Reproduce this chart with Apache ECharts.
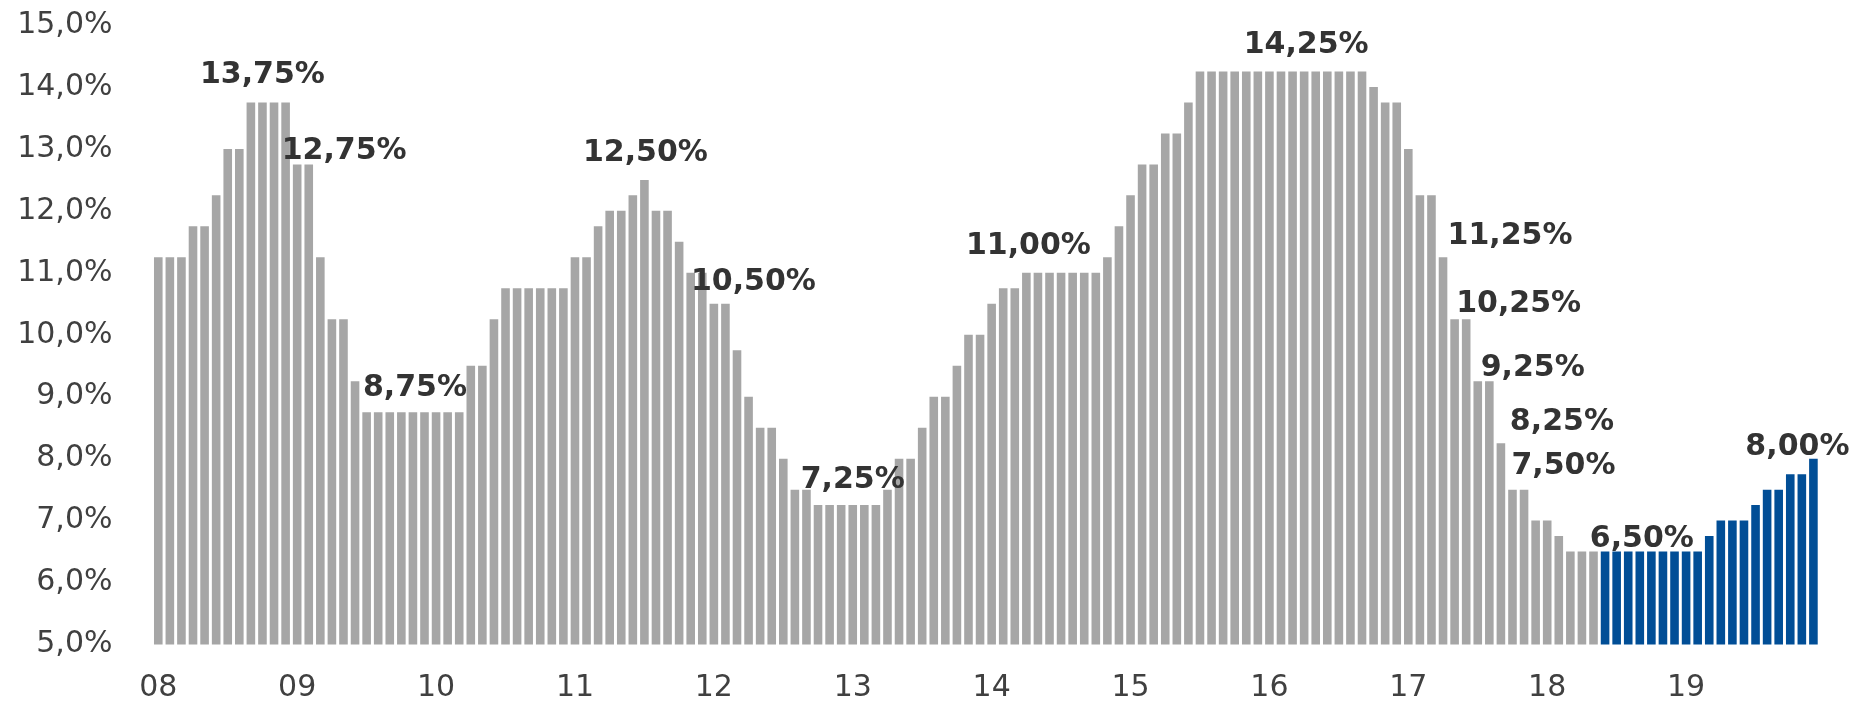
<!DOCTYPE html>
<html>
<head>
<meta charset="utf-8">
<script src="https://cdn.jsdelivr.net/npm/echarts@6/dist/echarts.min.js"></script>
<style>
  html, body { margin: 0; padding: 0; background: #ffffff; }
  #chart { width: 1853px; height: 703px; }
</style>
</head>
<body>
<div id="chart"></div>
<script>
// ---- DATA ----
const years = ['08', '09', '10', '11', '12', '13', '14', '15', '16', '17', '18', '19'];
const monthNames = ['jan', 'fev', 'mar', 'abr', 'mai', 'jun', 'jul', 'ago', 'set', 'out', 'nov', 'dez'];

const selic2008 = [11.25, 11.25, 11.25, 11.75, 11.75, 12.25, 13.00, 13.00, 13.75, 13.75, 13.75, 13.75];
const selic2009 = [12.75, 12.75, 11.25, 10.25, 10.25, 9.25, 8.75, 8.75, 8.75, 8.75, 8.75, 8.75];
const selic2010 = [8.75, 8.75, 8.75, 9.50, 9.50, 10.25, 10.75, 10.75, 10.75, 10.75, 10.75, 10.75];
const selic2011 = [11.25, 11.25, 11.75, 12.00, 12.00, 12.25, 12.50, 12.00, 12.00, 11.50, 11.00, 11.00];
const selic2012 = [10.50, 10.50, 9.75, 9.00, 8.50, 8.50, 8.00, 7.50, 7.50, 7.25, 7.25, 7.25];
const selic2013 = [7.25, 7.25, 7.25, 7.50, 8.00, 8.00, 8.50, 9.00, 9.00, 9.50, 10.00, 10.00];
const selic2014 = [10.50, 10.75, 10.75, 11.00, 11.00, 11.00, 11.00, 11.00, 11.00, 11.00, 11.25, 11.75];
const selic2015 = [12.25, 12.75, 12.75, 13.25, 13.25, 13.75, 14.25, 14.25, 14.25, 14.25, 14.25, 14.25];
const selic2016 = [14.25, 14.25, 14.25, 14.25, 14.25, 14.25, 14.25, 14.25, 14.25, 14.00, 13.75, 13.75];
const selic2017 = [13.00, 12.25, 12.25, 11.25, 10.25, 10.25, 9.25, 9.25, 8.25, 7.50, 7.50, 7.00];
const selic2018Hist = [7.00, 6.75, 6.50, 6.50, 6.50];
const selic2018Proj = [6.50, 6.50, 6.50, 6.50, 6.50, 6.50, 6.50];
const selic2019Proj = [6.50, 6.50, 6.75, 7.00, 7.00, 7.00, 7.25, 7.50, 7.50, 7.75, 7.75, 8.00];

// months whose value is written above the bar
const labelledMonths = ['out/08', 'jan/09', 'nov/09', 'jul/11', 'fev/12', 'jan/13', 'abr/14',
  'abr/16', 'abr/17', 'mai/17', 'jul/17', 'set/17', 'out/17', 'set/18', 'dez/19'];

// ---- STYLE (label placement, px) ----
const labelOffsets = {
  'out/08': [0, -12], 'jan/09': [47, 2], 'nov/09': [2, -9], 'jul/11': [1, -12],
  'fev/12': [28, -7], 'jan/13': [0, -10], 'abr/14': [2, -12], 'abr/16': [2, -11],
  'abr/17': [67, -6], 'mai/17': [64, 0], 'jul/17': [55, 2], 'set/17': [61, -6],
  'out/17': [51, -8], 'set/18': [2, 3], 'dez/19': [-16, 4]
};
const FONT = 'DejaVu Sans';
const GRAY = '#A6A6A6';
const BLUE = '#014E96';

// ---- BUILD ----
const categories = [];
years.forEach(y => monthNames.forEach(m => categories.push(m + '/' + y)));

const historical = [].concat(selic2008, selic2009, selic2010, selic2011, selic2012, selic2013,
  selic2014, selic2015, selic2016, selic2017, selic2018Hist);
const projection = [].concat(selic2018Proj, selic2019Proj);

const fmtPct = v => v.toFixed(2).replace('.', ',') + '%';

function makeItem(value, idx) {
  const cat = categories[idx];
  if (labelledMonths.indexOf(cat) < 0) return value;
  return {
    value: value,
    label: {
      show: true,
      position: 'top',
      distance: 0,
      offset: labelOffsets[cat] || [0, 0],
      formatter: p => fmtPct(p.value),
      fontFamily: FONT,
      fontWeight: 'bold',
      fontSize: 30,
      lineHeight: 30,
      color: '#333333'
    }
  };
}

const grayData = categories.map((c, i) => i < historical.length ? makeItem(historical[i], i) : null);
const blueData = categories.map((c, i) => i >= historical.length ? makeItem(projection[i - historical.length], i) : null);

const chart = echarts.init(document.getElementById('chart'), null, { renderer: 'canvas' });
chart.setOption({
  animation: false,
  backgroundColor: '#ffffff',
  grid: { left: 152.5, right: 33.8, top: 25, bottom: 55.5, containLabel: false },
  xAxis: {
    type: 'category',
    data: categories,
    axisLine: { show: false },
    axisTick: { show: false },
    splitLine: { show: false },
    axisLabel: {
      interval: 11,
      margin: 28.5,
      fontFamily: FONT,
      fontSize: 30,
      lineHeight: 30,
      color: '#404040',
      formatter: v => v.split('/')[1]
    }
  },
  yAxis: {
    type: 'value',
    min: 5,
    max: 15,
    interval: 1,
    axisLine: { show: false },
    axisTick: { show: false },
    splitLine: { show: false },
    axisLabel: {
      margin: 40,
      fontFamily: FONT,
      fontSize: 30,
      color: '#404040',
      formatter: v => v.toFixed(1).replace('.', ',') + '%'
    }
  },
  series: [
    {
      type: 'bar',
      data: grayData,
      barWidth: 8.6,
      barGap: '-100%',
      itemStyle: { color: GRAY },
      silent: true
    },
    {
      type: 'bar',
      data: blueData,
      barWidth: 8.6,
      barGap: '-100%',
      itemStyle: { color: BLUE },
      silent: true
    }
  ]
});
</script>
</body>
</html>
